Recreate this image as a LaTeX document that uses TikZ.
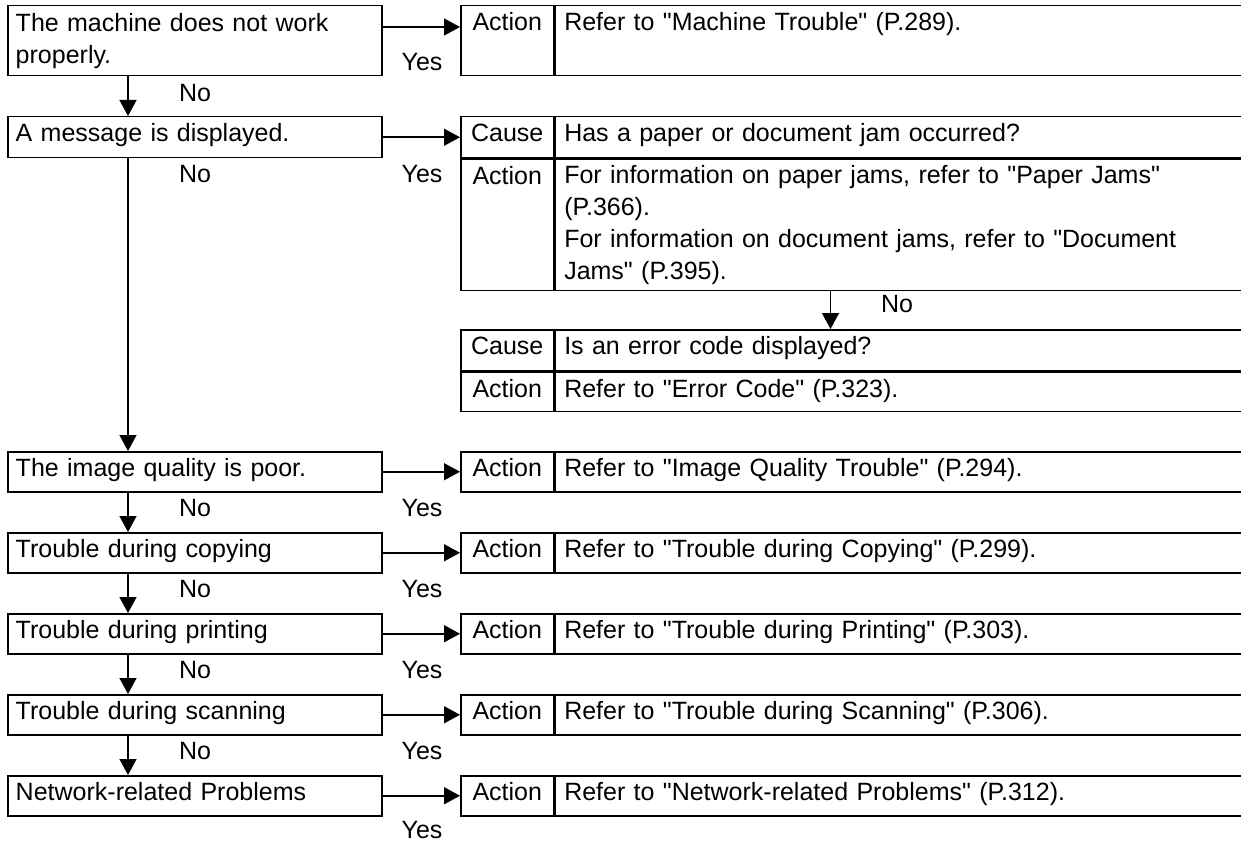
\documentclass[tikz,border=0pt]{standalone}
\usepackage{fontspec}
\setmainfont{Liberation Sans}[Ligatures=TeXOff]
\usetikzlibrary{positioning,arrows.meta}

\begin{document}
\begin{tikzpicture}[
  x=1pt, y=-1pt,
  every node/.style={font=\fontsize{25}{32}\selectfont},
  qbox/.style={draw, line width=1.5pt, anchor=north west, text width=358pt, inner xsep=8pt, inner ysep=3pt, align=left},
  tag/.style={draw, line width=1.5pt, anchor=north west, minimum width=93pt, inner xsep=0pt, inner ysep=3pt},
  info/.style={draw, line width=1.5pt, anchor=north west, text width=668pt, inner xsep=9pt, inner ysep=3pt, align=left},
  oneline/.style={text height=22pt, text depth=#1},
  answer/.style={inner sep=0pt},
  arrow/.style={-{Triangle[length=16pt, width=17pt]}, line width=1.5pt}
]
\useasboundingbox (0,0) rectangle (1241,845);

% questions
\node[qbox, minimum height=70pt] (q1) at (7,5) {The machine does not work\\properly.};
\node[qbox, oneline=13pt] (q2) at (7,116) {A message is displayed.};
\node[qbox, oneline=12pt] (q3) at (7,451) {The image quality is poor.};
\node[qbox, oneline=12pt] (q4) at (7,532) {Trouble during copying};
\node[qbox, oneline=12pt] (q5) at (7,613) {Trouble during printing};
\node[qbox, oneline=12pt] (q6) at (7,694) {Trouble during scanning};
\node[qbox, oneline=12pt] (q7) at (7,775) {Network-related Problems};

% cause / action tables
\node[tag, oneline=42pt] (t1) at (460,5) {Action};
\node[info, oneline=42pt] (a1) at (t1.north east) {Refer to "Machine Trouble" (P.289).};
\node[tag, oneline=13pt] (t2) at (460,116) {Cause};
\node[info, oneline=13pt] (c2) at (t2.north east) {Has a paper or document jam occurred?};
\node[tag, oneline=103pt] (t2b) at (t2.south west) {Action};
\node[info, minimum height=131pt] (a2) at (t2b.north east) {For information on paper jams, refer to "Paper Jams"\\(P.366).\\For information on document jams, refer to "Document\\Jams" (P.395).};
\node[tag, oneline=13pt] (t3) at (460,329) {Cause};
\node[info, oneline=13pt] (c3) at (t3.north east) {Is an error code displayed?};
\node[tag, oneline=11pt] (t3b) at (t3.south west) {Action};
\node[info, oneline=11pt] (a3) at (t3b.north east) {Refer to "Error Code" (P.323).};
\node[tag, oneline=12pt] (t4) at (460,451) {Action};
\node[info, oneline=12pt] (a4) at (t4.north east) {Refer to "Image Quality Trouble" (P.294).};
\node[tag, oneline=12pt] (t5) at (460,532) {Action};
\node[info, oneline=12pt] (a5) at (t5.north east) {Refer to "Trouble during Copying" (P.299).};
\node[tag, oneline=12pt] (t6) at (460,613) {Action};
\node[info, oneline=12pt] (a6) at (t6.north east) {Refer to "Trouble during Printing" (P.303).};
\node[tag, oneline=12pt] (t7) at (460,694) {Action};
\node[info, oneline=12pt] (a7) at (t7.north east) {Refer to "Trouble during Scanning" (P.306).};
\node[tag, oneline=12pt] (t8) at (460,775) {Action};
\node[info, oneline=12pt] (a8) at (t8.north east) {Refer to "Network-related Problems" (P.312).};

% yes branches
\draw[arrow] ([yshift=-22pt]q1.north east) -- ([yshift=-22pt]t1.north west);
\draw[arrow] (q2.east) -- (t2.west);
\draw[arrow] (q3.east) -- (t4.west);
\draw[arrow] (q4.east) -- (t5.west);
\draw[arrow] (q5.east) -- (t6.west);
\draw[arrow] (q6.east) -- (t7.west);
\draw[arrow] (q7.east) -- (t8.west);

% no branches
\draw[arrow] ([xshift=121pt]q1.south west) -- ([xshift=121pt]q2.north west);
\draw[arrow] ([xshift=121pt]q2.south west) -- ([xshift=121pt]q3.north west);
\draw[arrow] ([xshift=121pt]q3.south west) -- ([xshift=121pt]q4.north west);
\draw[arrow] ([xshift=121pt]q4.south west) -- ([xshift=121pt]q5.north west);
\draw[arrow] ([xshift=121pt]q5.south west) -- ([xshift=121pt]q6.north west);
\draw[arrow] ([xshift=121pt]q6.south west) -- ([xshift=121pt]q7.north west);
\draw[arrow] ([xshift=276pt]a2.south west) -- ([xshift=276pt]c3.north west);

% labels
\node[answer] (y1) at (422,62) {Yes};
\node[answer] (n1) at (195,93) {No};
\node[answer] (y2) at (422,174) {Yes};
\node[answer] (n2) at (195,174) {No};
\node[answer] (n3) at (897,304) {No};
\node[answer] (y3) at (422,508) {Yes};
\node[answer] (n4) at (195,508) {No};
\node[answer] (y4) at (422,589) {Yes};
\node[answer] (n5) at (195,589) {No};
\node[answer] (y5) at (422,670) {Yes};
\node[answer] (n6) at (195,670) {No};
\node[answer] (y6) at (422,751) {Yes};
\node[answer] (n7) at (195,751) {No};
\node[answer] (y7) at (422,830) {Yes};
\end{tikzpicture}
\end{document}
